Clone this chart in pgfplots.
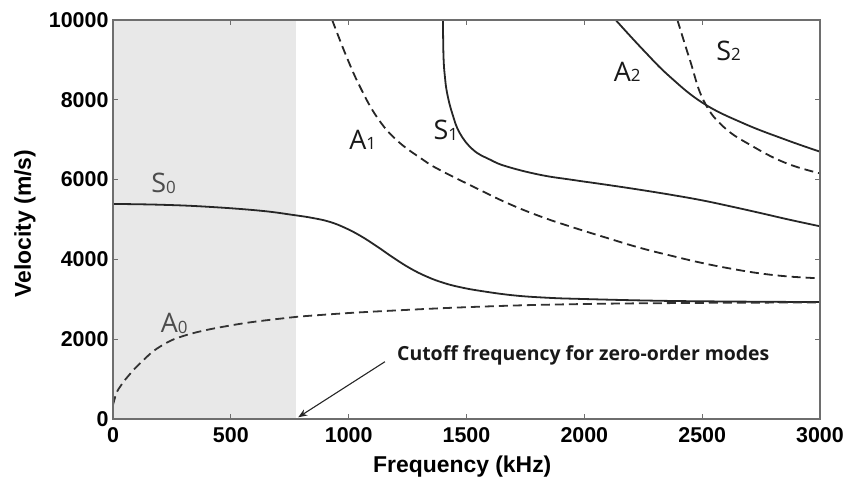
\documentclass[border=0pt]{standalone}
\usepackage{fontspec}
\setmainfont{Liberation Sans}
\newfontfamily\lblfont{Open Sans}
\usepackage{pgfplots}
\pgfplotsset{compat=1.18}
\usetikzlibrary{arrows.meta,calc}
\definecolor{shade}{RGB}{232,232,232}
\definecolor{axgray}{RGB}{110,110,110}
\newcommand{\ml}[2]{{\lblfont\fontsize{27}{27}\selectfont #1\raisebox{-0.5bp}{\fontsize{17}{17}\selectfont #2}}}
\begin{document}
\begin{tikzpicture}
\begin{axis}[
  name=ax,
  scale only axis,
  width=707bp, height=399bp,
  xmin=0, xmax=3000, ymin=0, ymax=10000,
  xtick={0,500,...,3000}, ytick={0,2000,...,10000},
  scaled ticks=false,
  tick align=inside,
  major tick length=5bp,
  tick style={axgray, line width=1bp},
  axis line style={axgray, line width=1.6bp},
  /pgf/number format/assume math mode=true,
  /pgf/number format/1000 sep={},
  ticklabel style={font=\fontsize{21.5}{24}\selectfont\bfseries},
  xticklabel style={yshift=-5bp},
  yticklabel style={xshift=-1bp},
  label style={font=\fontsize{23}{26}\selectfont\bfseries},
  xlabel={Frequency (kHz)},
  ylabel={Velocity (m/s)},
  xlabel style={at={(axis description cs:0.494,-0.118)}, anchor=center},
  ylabel style={at={(axis description cs:-0.1245,0.49)}, anchor=center, rotate=0},
  axis on top,
  clip=true,
]
\addplot[fill=shade, draw=none] coordinates {(0,0) (775,0) (775,10000) (0,10000)} -- cycle;

% S0 (solid)
\addplot[black!85, line width=1.8bp, smooth, tension=0.7] coordinates {
(0,5390) (200,5370) (400,5320) (624,5221) (765,5113) (850,5035) (920,4940) (985,4790) (1050,4590) (1119,4330) (1189,4045) (1260,3780) (1331,3570) (1401,3415) (1472,3305) (1560,3210) (1698,3100) (1840,3040) (1981,3010) (2300,2965) (2600,2945) (3000,2930)};
% A0 (dashed)
\addplot[black!80, line width=1.8bp, dash pattern=on 9bp off 5bp, smooth, tension=0.7] coordinates {
(0,350) (15,650) (35,850) (58,1030) (115,1396) (199,1812) (312,2105) (510,2356) (722,2523) (878,2606) (1133,2700) (1557,2815) (1981,2880) (2500,2910) (3000,2920)};
% A1 (dashed)
\addplot[black!85, line width=1.8bp, dash pattern=on 9bp off 5bp, smooth, tension=0.7] coordinates {
(930,10000) (991,9080) (1048,8328) (1119,7576) (1203,6992) (1317,6491) (1387,6241) (1529,5822) (1670,5420) (1812,5080) (1953,4800) (2095,4540) (2236,4290) (2377,4080) (2500,3910) (2620,3770) (2745,3650) (2870,3570) (3000,3526)};
% S1 (solid)
\addplot[black!85, line width=1.8bp, smooth, tension=0.7] coordinates {
(1400,10000) (1401,9500) (1403,9000) (1408,8600) (1418,8160) (1440,7650) (1472,7160) (1529,6742) (1600,6500) (1670,6330) (1812,6120) (1953,5990) (2095,5870) (2236,5745) (2377,5610) (2500,5480) (2620,5330) (2745,5165) (2870,4995) (3000,4830)};
% A2 (solid)
\addplot[black!85, line width=1.8bp, smooth, tension=0.7] coordinates {
(2133,10000) (2250,9248) (2363,8579) (2505,7912) (2675,7411) (2858,6992) (3000,6700)};
% S2 (dashed)
\addplot[black!85, line width=1.8bp, dash pattern=on 9bp off 5bp, smooth, tension=0.7] coordinates {
(2395,10000) (2448,8997) (2505,7995) (2590,7326) (2717,6825) (2858,6408) (3000,6156)};

\node[black!70] at (axis cs:215,5900) {\ml{S}{0}};
\node[black!70] at (axis cs:260,2400) {\ml{A}{0}};
\node[black!90] at (axis cs:1060,6990) {\ml{A}{1}};
\node[black!90] at (axis cs:1412,7240) {\ml{S}{1}};
\node[black!90] at (axis cs:2182,8700) {\ml{A}{2}};
\node[black!90] at (axis cs:2612,9230) {\ml{S}{2}};

\draw[-{Stealth[length=9bp,width=7bp]}, line width=1.1bp, black!85] (axis cs:1154,1436) -- (axis cs:786,43);
\node[anchor=west, inner sep=0pt, black!90] at (axis cs:1205,1604) {\lblfont\fontsize{19.5}{21}\selectfont\bfseries Cutoff frequency for zero-order modes};
\end{axis}
\pgfresetboundingbox
\path[use as bounding box] ($(ax.south west)+(-113bp,-68bp)$) rectangle ($(ax.north east)+(31bp,20bp)$);
\end{tikzpicture}
\end{document}
